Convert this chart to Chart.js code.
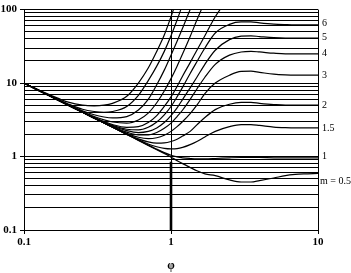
<!DOCTYPE html>
<html><head><meta charset="utf-8">
<script src="https://cdn.jsdelivr.net/npm/chart.js@4/dist/chart.umd.min.js"></script>
<style>html,body{margin:0;padding:0;background:#fff;overflow:hidden}</style>
</head><body>
<canvas id="c" width="351" height="273"></canvas>
<script>
// φ sample points
const phi = [0.1, 0.12, 0.15, 0.2, 0.25, 0.3, 0.35, 0.4, 0.5, 0.6, 0.7, 0.8, 0.9, 1.0, 1.1, 1.2, 1.35, 1.5, 1.7, 2.0, 2.5, 3.0, 3.5, 4, 5, 6, 7, 8, 10];

// unlabeled steep curves (leave the top of the chart)
const steep1 = [10, 8.4, 6.9, 5.5, 5.0, 4.9, 5.0, 5.3, 6.6, 10, 16, 27, 45, 80, 140];
const steep2 = [10, 8.35, 6.75, 5.2, 4.4, 4.1, 4.0, 4.1, 4.8, 6.8, 10.8, 17, 27, 44, 72, 118];
const steep3 = [10, 8.34, 6.7, 5.1, 4.2, 3.7, 3.45, 3.35, 3.5, 4.3, 6.0, 9.5, 15, 24, 37, 56, 100, 160];
const steep4 = [10, 8.34, 6.68, 5.05, 4.1, 3.5, 3.15, 2.95, 2.85, 3.15, 3.9, 5.4, 7.8, 11.5, 17, 25, 43, 72, 130];
const steep5 = [10, 8.34, 6.67, 5.02, 4.05, 3.42, 3.0, 2.72, 2.5, 2.55, 2.9, 3.6, 4.8, 6.5, 9.0, 12.5, 19, 28, 44, 80, 150];

// labelled curves
const m6  = [10, 8.34, 6.67, 5.01, 4.03, 3.38, 2.95, 2.65, 2.35, 2.3, 2.5, 2.95, 3.7, 4.8, 6.5, 8.8, 13.5, 19.5, 30, 48, 63, 68, 68, 66, 63.5, 62.5, 62, 62, 62];
const m5  = [10, 8.34, 6.67, 5.01, 4.02, 3.36, 2.92, 2.6, 2.25, 2.12, 2.2, 2.45, 2.9, 3.6, 4.6, 6.0, 8.6, 12, 18, 28, 39, 43.5, 44, 43, 41.5, 41, 41, 41, 41];
const m4  = [10, 8.34, 6.67, 5.0, 4.02, 3.35, 2.9, 2.56, 2.15, 1.97, 1.97, 2.12, 2.42, 2.85, 3.5, 4.3, 6.0, 8.3, 12, 18, 24, 26.5, 27, 26.5, 25.5, 25, 25, 25, 25];
const m3  = [10, 8.34, 6.67, 5.0, 4.01, 3.34, 2.88, 2.53, 2.07, 1.83, 1.75, 1.8, 1.95, 2.2, 2.55, 3.0, 3.85, 5.0, 7.2, 10, 12.8, 14.4, 14.5, 14, 13.2, 12.9, 12.8, 12.8, 12.8];
const m2  = [10, 8.33, 6.67, 5.0, 4.0, 3.34, 2.87, 2.52, 2.03, 1.74, 1.58, 1.52, 1.53, 1.6, 1.72, 1.9, 2.2, 2.7, 3.4, 4.35, 5.15, 5.45, 5.45, 5.3, 5.1, 5.0, 5.0, 5.0, 5.0];
const m15 = [10, 8.33, 6.67, 5.0, 4.0, 3.33, 2.86, 2.51, 2.01, 1.69, 1.48, 1.36, 1.29, 1.27, 1.28, 1.33, 1.45, 1.6, 1.85, 2.2, 2.55, 2.72, 2.72, 2.65, 2.52, 2.47, 2.45, 2.45, 2.45];
const m1  = [10, 8.33, 6.67, 5.0, 4.0, 3.33, 2.86, 2.5, 2.0, 1.67, 1.43, 1.26, 1.13, 1.04, 0.99, 0.96, 0.94, 0.93, 0.93, 0.94, 0.96, 0.97, 0.97, 0.97, 0.96, 0.96, 0.96, 0.96, 0.96];
const m05 = [10, 8.33, 6.67, 5.0, 4.0, 3.33, 2.86, 2.5, 2.0, 1.66, 1.42, 1.24, 1.1, 0.98, 0.88, 0.8, 0.71, 0.64, 0.58, 0.55, 0.48, 0.45, 0.45, 0.47, 0.51, 0.55, 0.57, 0.58, 0.59];

const allSeries = [steep1, steep2, steep3, steep4, steep5, m6, m5, m4, m3, m2, m15, m1, m05];

// right-hand curve labels and the values they sit at
const curveLabels = ['6', '5', '4', '3', '2', '1.5', '1', 'm = 0.5'];
const curveLabelValues = [65, 42, 25, 12.8, 4.9, 2.44, 1, 0.46];

// axis ticks
const xTickValues = [0.1, 1, 10];
const xTickLabels = ['0.1', '1', '10'];
const yTickValues = [0.1, 1, 10, 100];
const yTickLabels = ['0.1', '1', '10', '100'];
const xTitle = 'φ';

const yGrid = [];
for (let d = 0; d < 3; d++) {
  for (let k = 1; k <= 9; k++) yGrid.push(+(k * Math.pow(10, d - 1)).toPrecision(3));
}
yGrid.push(100);

const isMajor = (v, list) => list.some(t => Math.abs(Math.log10(v) - Math.log10(t)) < 1e-6);
const labelFor = (v, vals, labs) => {
  const i = vals.findIndex(t => Math.abs(Math.log10(v) - Math.log10(t)) < 1e-6);
  return i >= 0 ? labs[i] : '';
};

const datasets = allSeries.map(s => ({
  data: phi.slice(0, s.length).map((x, i) => ({ x: x, y: s[i] })),
  borderColor: '#000',
  borderWidth: 1.2,
  pointRadius: 0,
  fill: false,
  cubicInterpolationMode: 'monotone'
}));

const tickFont = { family: 'Liberation Serif', size: 11, weight: 'bold' };

const annot = {
  id: 'annot',
  afterDraw(chart) {
    const ctx = chart.ctx;
    const xs = chart.scales.x, ys = chart.scales.y;
    const ca = chart.chartArea;
    ctx.save();
    // heavier lower part of the φ = 1 line
    const x1 = xs.getPixelForValue(1);
    ctx.strokeStyle = '#000';
    ctx.lineWidth = 2.6;
    ctx.beginPath();
    ctx.moveTo(x1, ys.getPixelForValue(0.85));
    ctx.lineTo(x1, ca.bottom);
    ctx.stroke();
    // curve labels
    ctx.fillStyle = '#000';
    ctx.font = '10px "Liberation Serif"';
    ctx.textAlign = 'left';
    ctx.textBaseline = 'middle';
    curveLabels.forEach((t, i) => {
      const x = t.length > 3 ? ca.right + 2 : ca.right + 4;
      ctx.fillText(t, x, ys.getPixelForValue(curveLabelValues[i]));
    });
    // axis title
    ctx.font = 'bold 12px "Liberation Serif"';
    ctx.textAlign = 'center';
    ctx.fillText(xTitle, x1, 266);
    ctx.restore();
  }
};

new Chart(document.getElementById('c'), {
  type: 'scatter',
  data: { datasets },
  options: {
    responsive: false,
    devicePixelRatio: 1,
    animation: false,
    showLine: true,
    layout: { padding: { left: 0, right: 33, top: 5, bottom: 0 }, autoPadding: false },
    plugins: { legend: { display: false }, tooltip: { enabled: false } },
    scales: {
      x: {
        type: 'logarithmic',
        min: 0.1, max: 10,
        afterBuildTicks: s => { s.ticks = xTickValues.map(v => ({ value: v })); },
        afterFit: s => { s.height = 43; },
        ticks: {
          autoSkip: false, maxRotation: 0, padding: 2, color: '#000', font: tickFont,
          callback: v => labelFor(v, xTickValues, xTickLabels)
        },
        grid: { color: '#000', lineWidth: 1, tickLength: 4, tickColor: '#000' },
        border: { color: '#000', width: 1 }
      },
      y: {
        type: 'logarithmic',
        min: 0.1, max: 100,
        afterBuildTicks: s => { s.ticks = yGrid.map(v => ({ value: v })); },
        afterFit: s => { s.width = 24; },
        ticks: {
          autoSkip: false, padding: 3, color: '#000', font: tickFont,
          callback: v => labelFor(v, yTickValues, yTickLabels)
        },
        grid: {
          color: '#000', lineWidth: 1, tickLength: 4,
          tickColor: c => (c.tick && isMajor(c.tick.value, yTickValues)) ? '#000' : 'rgba(0,0,0,0)'
        },
        border: { color: '#000', width: 1 }
      }
    }
  },
  plugins: [annot]
});
</script>
</body></html>
